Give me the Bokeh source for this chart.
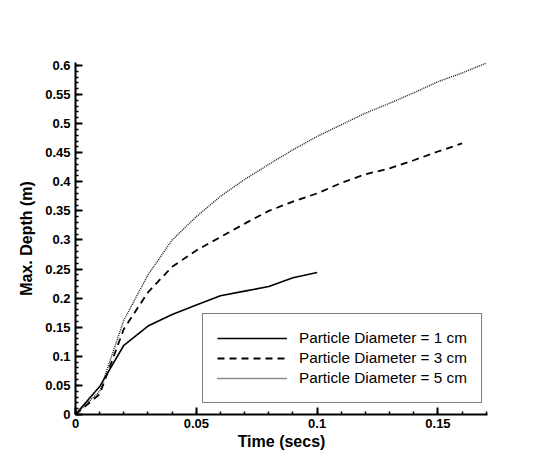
from bokeh.plotting import figure
from bokeh.models import (Range1d, SingleIntervalTicker, NumeralTickFormatter,
                          Legend, LegendItem)
from bokeh.embed import file_html
from bokeh.resources import INLINE

# ---- data ----
t_1cm = [0, 0.01, 0.02, 0.03, 0.04, 0.05, 0.06, 0.07, 0.08, 0.09, 0.10]
d_1cm = [0, 0.048, 0.119, 0.152, 0.172, 0.188, 0.204, 0.212, 0.220, 0.235, 0.244]

t_3cm = [0, 0.01, 0.02, 0.03, 0.04, 0.05, 0.06, 0.07, 0.08, 0.09, 0.10,
         0.11, 0.12, 0.13, 0.14, 0.15, 0.16]
d_3cm = [0, 0.035, 0.147, 0.210, 0.254, 0.282, 0.305, 0.328, 0.350, 0.366, 0.380,
         0.398, 0.413, 0.423, 0.437, 0.452, 0.466]

t_5cm = [0, 0.01, 0.02, 0.03, 0.04, 0.05, 0.06, 0.07, 0.08, 0.09, 0.10,
         0.11, 0.12, 0.13, 0.14, 0.15, 0.16, 0.17]
d_5cm = [0, 0.040, 0.162, 0.240, 0.300, 0.340, 0.375, 0.404, 0.430, 0.455, 0.478,
         0.498, 0.518, 0.535, 0.553, 0.572, 0.587, 0.604]

labels = ["Particle Diameter = 1 cm", "Particle Diameter = 3 cm",
          "Particle Diameter = 5 cm"]

FONT = "Liberation Sans"

W, H = 533, 452
BL, BT, BR, BB = 75, 62, 46, 34

p = figure(width=W, height=H, output_backend="svg", toolbar_location=None,
           x_range=Range1d(0, 0.1705), y_range=Range1d(0, 0.605),
           min_border_left=BL, min_border_top=BT, min_border_right=BR,
           min_border_bottom=BB)
p.outline_line_color = None
p.outline_line_alpha = 0
p.xgrid.visible = False
p.ygrid.visible = False
p.background_fill_color = "white"
p.border_fill_color = "white"

for ax in (p.xaxis[0], p.yaxis[0]):
    ax.ticker = SingleIntervalTicker(interval=0.05, num_minor_ticks=5)
    ax.formatter = NumeralTickFormatter(format="0.[00]")
    ax.axis_line_width = 2
    ax.axis_line_color = "black"
    ax.major_tick_in = 7
    ax.major_tick_out = 0
    ax.major_tick_line_width = 2
    ax.minor_tick_in = 3
    ax.minor_tick_out = 0
    ax.minor_tick_line_width = 1.5
    ax.major_label_text_font = FONT
    ax.major_label_text_font_size = "13px"
    ax.major_label_text_font_style = "bold"
    ax.major_label_text_color = "black"
    ax.axis_label_text_font = FONT
    ax.axis_label_text_font_size = "16px"
    ax.axis_label_text_font_style = "bold"
    ax.axis_label_text_color = "black"

p.xaxis.axis_label = "Time (secs)"
p.yaxis.axis_label = "Max. Depth (m)"
p.xaxis.major_label_standoff = 4
p.yaxis.major_label_standoff = 5
p.xaxis.axis_label_standoff = 2
p.yaxis.axis_label_standoff = 7

r1 = p.line(t_1cm, d_1cm, line_color="black", line_width=1.6)
r3 = p.line(t_3cm, d_3cm, line_color="black", line_width=1.8, line_dash="7 5")
r5 = p.line(t_5cm, d_5cm, line_color="#1a1a1a", line_width=1.4, line_dash="1 1")

legend = Legend(items=[LegendItem(label=labels[0], renderers=[r1]),
                       LegendItem(label=labels[1], renderers=[r3]),
                       LegendItem(label=labels[2], renderers=[r5])],
                location=(127, 11), orientation="vertical",
                padding=14, spacing=0, margin=0,
                glyph_width=70, glyph_height=20, label_height=20,
                label_standoff=12,
                label_text_font=FONT, label_text_font_size="15.3px",
                label_text_color="black",
                border_line_color="black", border_line_width=1.5,
                background_fill_color="white", background_fill_alpha=1.0)
p.add_layout(legend, "center")

open("out.html", "w").write(file_html(p, INLINE))
